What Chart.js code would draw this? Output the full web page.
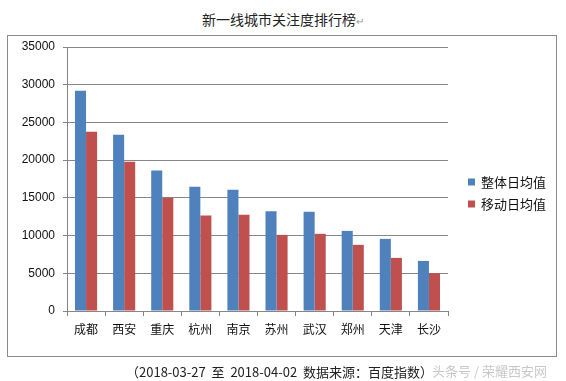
<!DOCTYPE html>
<html><head><meta charset="utf-8">
<script src="https://cdn.jsdelivr.net/npm/chart.js@4/dist/chart.umd.min.js"></script>
<style>
html,body{margin:0;padding:0;background:#fff;width:566px;height:381px;overflow:hidden;font-family:"Noto Sans CJK SC","Liberation Sans",sans-serif;}
#title{position:absolute;left:0;width:566px;top:9px;text-align:center;font-size:14px;color:#222;}
#title span{font-size:10px;color:#999;}
#box{position:absolute;left:7px;top:35px;width:550px;height:322px;border:1px solid #8a8a8a;box-sizing:border-box;}
#c{position:absolute;left:0;top:0;}
#foot{position:absolute;left:126px;top:362px;font-size:13px;color:#222;white-space:nowrap;}
#wm{position:absolute;left:432px;top:361px;font-size:13px;color:#c8c8c8;white-space:nowrap;}
</style></head>
<body>
<div id="title">新一线城市关注度排行榜<span>↵</span></div>
<div id="box"></div>
<canvas id="c" width="566" height="381"></canvas>
<div id="foot">（2018-03-27&nbsp; 至&nbsp; 2018-04-02&nbsp; 数据来源：百度指数）</div>
<div id="wm">头条号 / 荣耀西安网</div>
<script>
const categories = ["成都","西安","重庆","杭州","南京","苏州","武汉","郑州","天津","长沙"];
const seriesNames = ["整体日均值","移动日均值"];
const overall = [29200,23370,18630,16470,16070,13240,13150,10620,9560,6640];
const mobile  = [23770,19790,15000,12660,12750,10090,10230,8770,7040,5010];
const yTicks = [0,5000,10000,15000,20000,25000,30000,35000];
const colors = ["#4F81BD","#C0504D"];

const legendPlugin = {
  id:'customLegend',
  afterDraw(chart){
    const ctx = chart.ctx;
    ctx.save();
    chart.data.datasets.forEach((ds,i)=>{
      const y = 182 + i*22;
      ctx.fillStyle = ds.backgroundColor;
      ctx.fillRect(468, y-3.5, 7, 7);
      ctx.fillStyle = '#111';
      ctx.font = '13px "Noto Sans CJK SC", sans-serif';
      ctx.textBaseline = 'middle';
      ctx.textAlign = 'left';
      ctx.fillText(ds.label, 481, y);
    });
    ctx.restore();
  }
};

new Chart(document.getElementById('c'), {
  type:'bar',
  data:{
    labels:categories,
    datasets:[
      {label:seriesNames[0], data:overall, backgroundColor:colors[0]},
      {label:seriesNames[1], data:mobile, backgroundColor:colors[1]}
    ]
  },
  options:{
    responsive:false,
    animation:false,
    layout:{padding:{left:0,top:47,right:118,bottom:40}},
    plugins:{legend:{display:false},tooltip:{enabled:false},title:{display:false}},
    datasets:{bar:{categoryPercentage:0.58,barPercentage:1.0}},
    scales:{
      x:{
        afterFit(s){s.height=30;},
        grid:{display:true,drawOnChartArea:false,offset:true,tickLength:5,color:'#868686'},
        border:{display:true,color:'#868686'},
        ticks:{padding:6,color:'#111',font:{family:'"Noto Sans CJK SC", sans-serif',size:12},maxRotation:0,autoSkip:false}
      },
      y:{
        min:0,max:35000,
        afterFit(s){s.width=67;},
        afterBuildTicks(s){s.ticks = yTicks.map(v=>({value:v}));},
        grid:{color:'#868686',tickLength:4,drawTicks:true},
        border:{display:true,color:'#868686'},
        ticks:{padding:8,color:'#111',font:{family:'"Liberation Sans", sans-serif',size:12},callback:(v)=>String(v)}
      }
    }
  },
  plugins:[legendPlugin]
});
</script>
</body></html>
